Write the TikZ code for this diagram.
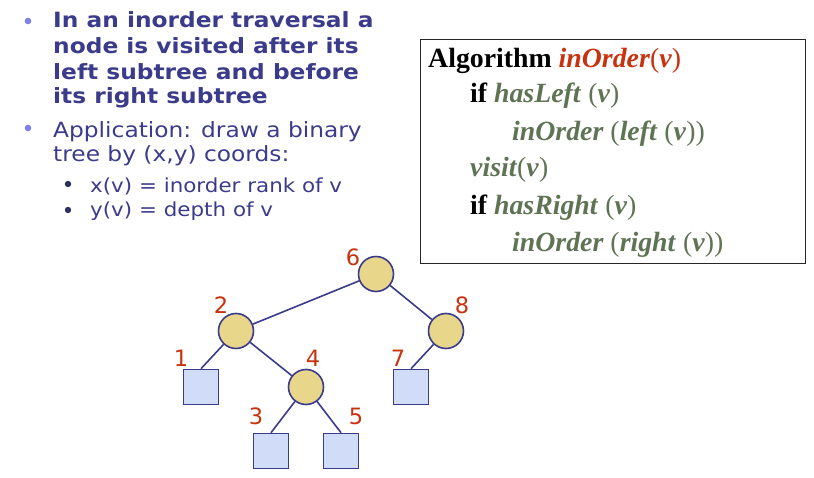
\documentclass[tikz,border=0pt]{standalone}
\usepackage{fontspec}
\newfontfamily\slidefont[FakeStretch=1.11]{DejaVu Sans}
\newfontfamily\rankfont{DejaVu Sans}
\newfontfamily\algfont{Liberation Serif}

\definecolor{slideblue}{HTML}{3B3B8C}
\definecolor{bulletblue}{HTML}{7F7FE8}
\definecolor{subbullet}{HTML}{30305E}
\definecolor{nodefill}{HTML}{E8D68A}
\definecolor{leaffill}{HTML}{D0DCF8}
\definecolor{rankred}{HTML}{C8320F}
\definecolor{alggreen}{HTML}{5F7355}

\tikzset{
  inner/.style={circle, draw=slideblue, fill=nodefill, line width=1.6pt, minimum size=35pt, inner sep=0pt},
  leaf/.style={rectangle, draw=slideblue, fill=leaffill, line width=1.6pt, minimum size=35pt, inner sep=0pt},
  rank/.style={text=rankred, font=\rankfont\fontsize{22.5}{22.5}\selectfont, inner sep=0pt},
  edge/.style={draw=slideblue, line width=1.6pt},
  bigline/.style={anchor=base west, inner sep=0pt, text=slideblue, font=\slidefont\fontsize{21}{21}\selectfont},
  boldline/.style={bigline, font=\slidefont\bfseries\fontsize{21}{21}\selectfont},
  subline/.style={anchor=base west, inner sep=0pt, text=slideblue, font=\slidefont\fontsize{19.3}{19.3}\selectfont},
  algline/.style={anchor=base west, inner sep=0pt, font=\algfont\bfseries\fontsize{27.8}{27.8}\selectfont},
}

\newcommand{\gr}[1]{\textcolor{alggreen}{#1}}
\newcommand{\pl}[1]{\textmd{#1}}

\begin{document}
\begin{tikzpicture}[x=1pt,y=-1pt]

\useasboundingbox (0,0) rectangle (814,478);

% bullets
\fill[bulletblue] (28,21) circle (3.3);
\fill[bulletblue] (28,128) circle (3.3);
\fill[subbullet] (68,184) circle (3.2);
\fill[subbullet] (68,210) circle (3.2);

\node[boldline] (t1) at (53,28) {In an inorder traversal a};
\node[boldline] (t2) at (53,54) {node is visited after its};
\node[boldline] (t3) at (53,80) {left subtree and before};
\node[boldline] (t4) at (53,104) {its right subtree};
\node[bigline] (t5) at (53,138) {Application: draw a binary};
\node[bigline] (t6) at (53,162) {tree by (x,y) coords:};
\node[subline] (s1) at (90,193) {x(v) = inorder rank of v};
\node[subline] (s2) at (90,217) {y(v) = depth of v};

% algorithm box
\draw[line width=1pt, black!85] (420,40) rectangle (805,264);
\node[algline] (a1) at (428,68) {Algorithm \textcolor{rankred}{\textit{inOrder}\pl{(}\textit{v}\pl{)}}};
\node[algline] (a2) at (470,103) {if \gr{\textit{hasLeft} \pl{(}\textit{v}\pl{)}}};
\node[algline] (a3) at (512,141) {\gr{\textit{inOrder} \pl{(}\textit{left} \pl{(}\textit{v}\pl{))}}};
\node[algline] (a4) at (470,177) {\gr{\textit{visit}\pl{(}\textit{v}\pl{)}}};
\node[algline] (a5) at (470,215) {if \gr{\textit{hasRight} \pl{(}\textit{v}\pl{)}}};
\node[algline] (a6) at (512,252) {\gr{\textit{inOrder} \pl{(}\textit{right} \pl{(}\textit{v}\pl{))}}};

% tree
\node[inner] (n6) at (376,274) {};
\node[inner] (n2) at (236,331) {};
\node[inner] (n8) at (446,331) {};
\node[inner] (n4) at (306,387) {};
\node[leaf] (l1) at (201,387) {};
\node[leaf] (l7) at (411,387) {};
\node[leaf] (l3) at (271,451) {};
\node[leaf] (l5) at (341,451) {};

\draw[edge] (n6) -- (n2);
\draw[edge] (n6) -- (n8);
\draw[edge] (n2) -- (l1.north);
\draw[edge] (n2) -- (n4);
\draw[edge] (n4) -- (l3.north);
\draw[edge] (n4) -- (l5.north);
\draw[edge] (n8) -- (l7.north);

\node[rank] (r6) at (353,257) {6};
\node[rank] (r2) at (221,305) {2};
\node[rank] (r8) at (462,305) {8};
\node[rank] (r1) at (181,358) {1};
\node[rank] (r4) at (313,358) {4};
\node[rank] (r7) at (398,358) {7};
\node[rank] (r3) at (256,416) {3};
\node[rank] (r5) at (356,416) {5};

\end{tikzpicture}
\end{document}
